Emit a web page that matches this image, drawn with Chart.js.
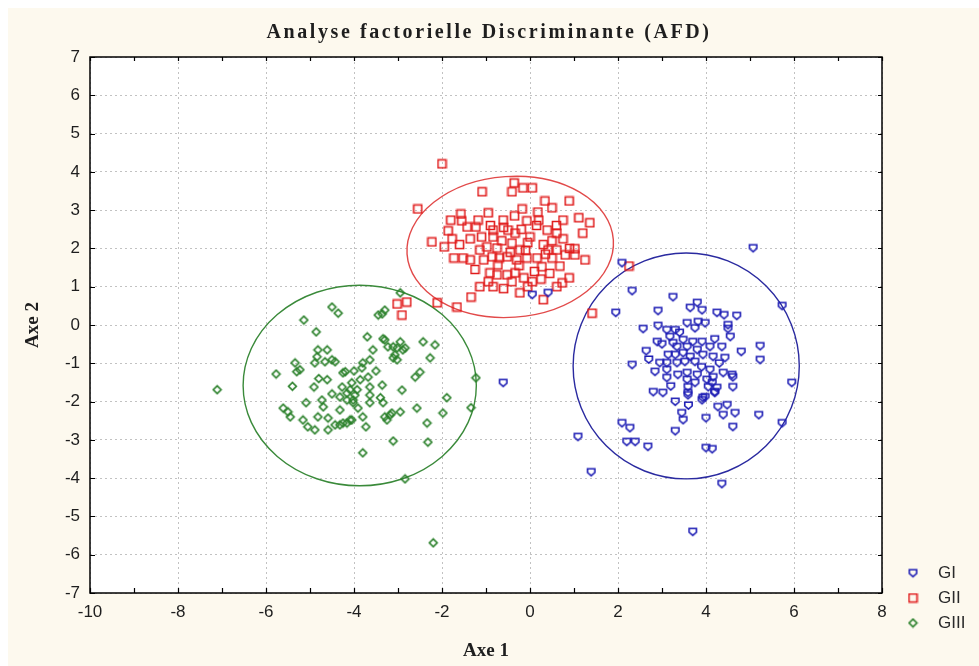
<!DOCTYPE html>
<html>
<head>
<meta charset="utf-8">
<script src="https://cdn.jsdelivr.net/npm/chart.js@4.4.1/dist/chart.umd.min.js"></script>
<style>
  html, body { margin: 0; padding: 0; background: #fff; }
  #afd { display: block; }
</style>
</head>
<body>
<canvas id="afd" width="979" height="666"></canvas>
<script>
// axis ticks
const xTicks = [-10, -8, -6, -4, -2, 0, 2, 4, 6, 8];
const yTicks = [-7, -6, -5, -4, -3, -2, -1, 0, 1, 2, 3, 4, 5, 6, 7];

const groupLabels = ['GI', 'GII', 'GIII'];

// GI (blue)
const giPoints = [
  [5.07, 2.01], [2.09, 1.62], [2.32, 0.89], [3.25, 0.73], [1.95, 0.32], [2.91, 0.37], [3.64, 0.45], [3.8, 0.58],
  [3.91, 0.39], [4.25, 0.32], [4.41, 0.26], [4.7, 0.24], [5.73, 0.5], [4.5, 0.0], [4.5, -0.1], [4.55, -0.31],
  [2.57, -0.1], [2.91, -0.02], [3.11, -0.13], [3.3, -0.13], [3.57, 0.05], [3.75, -0.08], [3.98, 0.05], [3.82, 0.08],
  [2.89, -0.44], [2.64, -0.68], [5.23, -0.55], [5.23, -0.91], [2.32, -1.04], [2.84, -1.22], [3.11, -1.38], [3.36, -1.3],
  [3.57, -1.43], [3.59, -1.62], [3.59, -1.77], [3.8, -1.3], [4.02, -1.43], [4.14, -1.51], [4.25, -1.64], [4.39, -1.25],
  [4.59, -1.3], [4.61, -1.62], [5.95, -1.51], [2.8, -1.75], [3.02, -1.77], [3.3, -2.0], [3.93, -1.9], [4.2, -1.75],
  [4.27, -2.14], [4.48, -2.09], [4.39, -2.35], [4.66, -2.3], [3.45, -2.3], [3.48, -2.48], [3.3, -2.77], [4.0, -2.43],
  [4.61, -2.66], [5.2, -2.35], [5.73, -2.56], [2.09, -2.56], [2.27, -2.69], [2.2, -3.05], [2.39, -3.05], [2.68, -3.18],
  [1.09, -2.92], [4.0, -3.21], [4.14, -3.24], [1.39, -3.84], [4.36, -4.15], [3.7, -5.4], [3.18, -0.31], [3.25, -0.47],
  [3.34, -0.57], [3.48, -0.39], [3.57, -0.57], [3.7, -0.44], [3.8, -0.65], [3.14, -0.78], [3.3, -0.78], [3.48, -0.73],
  [3.64, -0.83], [2.95, -0.99], [3.11, -0.99], [3.34, -0.99], [3.52, -0.96], [3.75, -0.96], [3.11, -1.17], [3.57, -1.25],
  [3.75, -1.51], [3.59, -1.83], [4.2, -0.37], [4.36, -0.57], [4.09, -0.57], [3.91, -0.44], [4.16, -0.83], [4.43, -0.86],
  [3.93, -0.78], [4.09, -1.17], [4.61, -1.36], [4.16, -1.36], [4.05, -1.62], [4.2, -1.77], [3.98, -1.88], [3.91, -1.96],
  [0.05, 0.79], [0.41, 0.84], [-0.61, -1.51], [3.4, -0.2], [3.9, -1.1], [3.2, -1.6], [4.3, -1.0], [3.6, -2.1],
  [2.7, -0.9], [4.8, -0.7], [3.0, -0.5]
];

// GII (red)
const giiPoints = [
  [-2.0, 4.21], [-2.55, 3.03], [-1.09, 3.48], [-0.36, 3.71], [-0.41, 3.48], [-0.16, 3.58], [0.05, 3.58], [0.34, 3.24],
  [0.5, 3.06], [0.89, 3.24], [1.11, 2.8], [1.36, 2.67], [-0.18, 3.03], [0.18, 2.95], [-0.95, 2.93], [-1.57, 2.9],
  [-1.8, 2.74], [-1.86, 2.46], [-2.23, 2.17], [-1.95, 2.04], [-1.77, 2.25], [-1.36, 2.25], [-1.23, 2.56], [-1.43, 2.56],
  [-1.55, 2.72], [-1.18, 2.74], [-1.73, 1.75], [-1.52, 1.75], [-1.36, 1.7], [-1.05, 1.7], [-0.84, 2.48], [-0.84, 2.3],
  [-0.61, 2.74], [-0.5, 2.48], [-0.34, 2.4], [-0.07, 2.72], [0.2, 2.74], [0.39, 2.48], [0.61, 2.4], [0.75, 2.74],
  [0.75, 2.25], [0.61, 1.96], [0.41, 1.96], [1.02, 1.99], [1.02, 1.83], [0.8, 1.83], [0.68, 1.54], [0.5, 1.75],
  [0.27, 1.52], [0.16, 1.75], [-0.07, 1.75], [-0.23, 1.96], [-0.41, 2.14], [-0.64, 2.2], [-0.75, 2.01], [-0.98, 2.04],
  [-1.14, 1.96], [-0.86, 1.78], [-0.52, 1.78], [-0.3, 1.7], [-0.73, 1.57], [-0.91, 1.36], [-0.75, 1.31], [-0.52, 1.31],
  [-0.34, 1.36], [-0.41, 1.13], [-0.14, 1.23], [0.05, 1.13], [-0.95, 1.13], [-1.14, 1.0], [-0.84, 1.0], [-1.34, 0.73],
  [-0.23, 0.84], [-0.05, 1.0], [0.3, 0.66], [0.61, 1.0], [0.89, 1.23], [0.73, 1.1], [-1.66, 0.47], [-2.11, 0.58],
  [-2.8, 0.6], [-3.02, 0.55], [-2.91, 0.26], [1.41, 0.31], [2.25, 1.54], [-0.2, 2.5], [0.0, 2.3], [-0.6, 2.55],
  [0.3, 2.1], [-0.1, 1.95], [0.15, 2.6], [-0.45, 1.9], [0.5, 2.2], [-0.9, 2.6], [-1.1, 2.3], [0.1, 1.4],
  [-0.25, 1.55], [0.35, 1.85], [-0.7, 1.75], [0.9, 2.0], [1.2, 2.4], [-1.6, 2.1], [-0.05, 2.15], [0.6, 2.6],
  [-0.35, 2.85], [0.25, 1.2], [-1.25, 1.45], [0.45, 1.35], [1.25, 1.7], [-0.6, 0.95]
];

// GIII (green)
const giiiPoints = [
  [-7.11, -1.69], [-5.77, -1.28], [-5.14, 0.13], [-4.86, -0.18], [-4.5, 0.47], [-4.36, 0.31], [-3.36, 0.29], [-3.3, 0.39],
  [-2.95, 0.84], [-3.45, 0.26], [-5.34, -0.99], [-5.23, -1.17], [-5.3, -1.22], [-4.82, -0.65], [-4.61, -0.65], [-4.84, -0.83],
  [-4.89, -0.99], [-4.66, -0.96], [-4.5, -0.91], [-4.43, -0.96], [-4.61, -1.43], [-4.91, -1.62], [-5.09, -2.03], [-5.61, -2.17],
  [-5.5, -2.27], [-5.45, -2.4], [-5.16, -2.48], [-5.05, -2.66], [-4.89, -2.74], [-4.82, -2.4], [-4.7, -2.14], [-4.73, -1.96],
  [-4.59, -2.43], [-4.59, -2.74], [-4.32, -2.22], [-4.32, -2.61], [-4.16, -2.56], [-4.05, -2.48], [-4.27, -1.62], [-4.16, -1.78],
  [-4.05, -1.51], [-3.93, -1.69], [-4.02, -1.96], [-3.91, -2.17], [-4.2, -1.22], [-3.86, -1.43], [-3.68, -1.36], [-3.64, -1.62],
  [-3.64, -1.83], [-3.64, -2.03], [-3.7, -0.31], [-3.57, -0.65], [-3.8, -0.99], [-3.64, -0.91], [-3.82, -1.12], [-3.36, -1.57],
  [-3.3, -0.39], [-3.11, -0.57], [-2.95, -0.44], [-2.89, -0.65], [-3.11, -0.86], [-3.02, -0.91], [-3.07, -0.78], [-2.91, -1.7],
  [-2.43, -0.44], [-2.16, -0.52], [-2.27, -0.86], [-2.61, -1.36], [-2.5, -1.23], [-1.89, -1.9], [-3.34, -2.03], [-2.95, -2.27],
  [-2.57, -2.17], [-3.3, -2.4], [-3.25, -2.48], [-3.14, -2.3], [-1.98, -2.3], [-2.34, -2.56], [-3.73, -2.66], [-3.11, -3.03],
  [-2.32, -3.06], [-3.8, -3.34], [-2.84, -4.02], [-2.2, -5.69], [-1.23, -1.38], [-1.34, -2.16], [-4.25, -1.25], [-4.09, -1.69],
  [-3.98, -1.83], [-4.32, -1.88], [-4.16, -1.96], [-4.02, -2.03], [-4.25, -2.56], [-4.09, -2.48], [-4.43, -2.61], [-3.18, -2.35],
  [-3.34, -0.36], [-3.23, -0.57], [-2.84, -0.6], [-3.02, -0.6], [-4.5, -1.8], [-4.0, -1.2], [-3.5, -1.2], [-3.4, -1.9],
  [-4.8, -1.4], [-3.8, -2.4], [-5.4, -1.6]
];

// confidence ellipses: centre, radii (data units), tilt (degrees on screen)
const ellipseCenterX = [3.55, -0.45, -3.87];
const ellipseCenterY = [-1.07, 2.04, -1.58];
const ellipseRadiusX = [2.57, 2.35, 2.65];
const ellipseRadiusY = [2.95, 1.84, 2.62];
const ellipseTilt = [0, -4, 0];

const markColors = ['#1c1cb4', '#e01c1c', '#2a802a'];
const ellipseColors = ['#2a2aa0', '#e24a4a', '#3a8a3a'];

function makeMarker(color, kind) {
  const c = document.createElement('canvas');
  c.width = 11; c.height = 11;
  const g = c.getContext('2d');
  g.strokeStyle = color;
  g.lineWidth = 1.6;
  g.beginPath();
  if (kind === 'pent') {
    g.moveTo(1.8, 2.3); g.lineTo(9.2, 2.3); g.lineTo(9.2, 6); g.lineTo(5.5, 9.2); g.lineTo(1.8, 6);
    g.closePath();
  } else if (kind === 'square') {
    g.rect(1.5, 1.5, 8, 8);
  } else {
    g.moveTo(5.5, 1.6); g.lineTo(9.4, 5.5); g.lineTo(5.5, 9.4); g.lineTo(1.6, 5.5);
    g.closePath();
  }
  g.stroke();
  return c;
}

const markers = [
  makeMarker(markColors[0], 'pent'),
  makeMarker(markColors[1], 'square'),
  makeMarker(markColors[2], 'diamond')
];

const frame = {
  id: 'frame',
  beforeDraw(chart) {
    const { ctx, chartArea: a } = chart;
    ctx.save();
    ctx.fillStyle = '#ffffff';
    ctx.fillRect(0, 0, chart.width, chart.height);
    ctx.fillStyle = '#fdf9ee';
    ctx.fillRect(8, 8, chart.width - 8, chart.height - 8);
    ctx.fillStyle = '#ffffff';
    ctx.fillRect(a.left, a.top, a.right - a.left, a.bottom - a.top);
    ctx.restore();
  },
  beforeDatasetsDraw(chart) {
    const { ctx, chartArea: a, scales: { x, y } } = chart;
    ctx.save();
    ctx.beginPath();
    ctx.rect(a.left, a.top, a.right - a.left, a.bottom - a.top);
    ctx.clip();
    ellipseCenterX.forEach((cx, i) => {
      const px = x.getPixelForValue(cx);
      const py = y.getPixelForValue(ellipseCenterY[i]);
      const rx = Math.abs(x.getPixelForValue(cx + ellipseRadiusX[i]) - px);
      const ry = Math.abs(y.getPixelForValue(ellipseCenterY[i] + ellipseRadiusY[i]) - py);
      ctx.beginPath();
      ctx.ellipse(px, py, rx, ry, ellipseTilt[i] * Math.PI / 180, 0, Math.PI * 2);
      ctx.strokeStyle = ellipseColors[i];
      ctx.lineWidth = 1.4;
      ctx.stroke();
    });
    ctx.restore();
  },
  afterDraw(chart) {
    const { ctx, chartArea: a, scales: { x, y } } = chart;
    ctx.save();
    ctx.strokeStyle = '#000';
    ctx.lineWidth = 1.5;
    ctx.strokeRect(a.left, a.top, a.right - a.left, a.bottom - a.top);
    // small inward ticks
    ctx.lineWidth = 1.2;
    ctx.beginPath();
    for (let v = x.min; v <= x.max; v++) {
      const p = Math.round(x.getPixelForValue(v)) + 0.5;
      ctx.moveTo(p, a.bottom); ctx.lineTo(p, a.bottom - 5);
      ctx.moveTo(p, a.top); ctx.lineTo(p, a.top + 4);
    }
    for (let v = y.min; v <= y.max; v++) {
      const p = Math.round(y.getPixelForValue(v)) + 0.5;
      ctx.moveTo(a.left, p); ctx.lineTo(a.left + 5, p);
      ctx.moveTo(a.right, p); ctx.lineTo(a.right - 4, p);
    }
    ctx.stroke();

    // title
    ctx.fillStyle = '#1e1e1e';
    ctx.font = 'bold 20px "Liberation Serif"';
    ctx.letterSpacing = '2.6px';
    ctx.textAlign = 'center';
    ctx.textBaseline = 'middle';
    ctx.fillText('Analyse factorielle Discriminante (AFD)', 489, 33);
    ctx.letterSpacing = '0px';

    // legend
    ctx.font = '17px "Liberation Sans"';
    ctx.textAlign = 'left';
    ctx.fillStyle = '#2a2a2a';
    chart.data.datasets.forEach((ds, i) => {
      const ly = 573 + i * 25;
      ctx.drawImage(ds.pointStyle, 913 - 5.5, ly - 5.5);
      ctx.fillText(ds.label, 938, ly);
    });
    ctx.restore();
  }
};

const tickFont = { family: 'Liberation Sans', size: 17 };
const axisTitleFont = { family: 'Liberation Serif', size: 19, weight: 'bold' };

new Chart(document.getElementById('afd'), {
  type: 'scatter',
  data: {
    datasets: [giPoints, giiPoints, giiiPoints].map((pts, i) => ({
      label: groupLabels[i],
      data: pts,
      pointStyle: markers[i],
      pointRadius: 4,
      borderColor: markColors[i],
      backgroundColor: 'transparent',
      order: i
    }))
  },
  options: {
    responsive: false,
    animation: false,
    devicePixelRatio: 1,
    layout: { padding: { left: 0, right: 97, top: 57, bottom: 0 } },
    plugins: {
      legend: { display: false },
      title: { display: false },
      tooltip: { enabled: false }
    },
    scales: {
      x: {
        type: 'linear',
        min: -10,
        max: 8,
        afterBuildTicks: s => { s.ticks = xTicks.map(v => ({ value: v })); },
        afterFit: s => { s.height = 73; },
        ticks: { color: '#1e1e1e', font: tickFont, padding: 9, maxRotation: 0 },
        grid: { color: '#c2c2c2', lineWidth: 1, drawTicks: false },
        border: { display: false, dash: [2, 3] },
        title: { display: true, text: 'Axe 1', color: '#1e1e1e', font: axisTitleFont, padding: { top: 0, bottom: 4 } }
      },
      y: {
        type: 'linear',
        min: -7,
        max: 7,
        afterBuildTicks: s => { s.ticks = yTicks.map(v => ({ value: v })); },
        afterFit: s => { s.width = 90; },
        ticks: { color: '#1e1e1e', font: tickFont, padding: 10 },
        grid: { color: '#c2c2c2', lineWidth: 1, drawTicks: false },
        border: { display: false, dash: [2, 3] },
        title: { display: true, text: 'Axe 2', color: '#1e1e1e', font: axisTitleFont, padding: { top: 22, bottom: 0 } }
      }
    }
  },
  plugins: [frame]
});
</script>
</body>
</html>
